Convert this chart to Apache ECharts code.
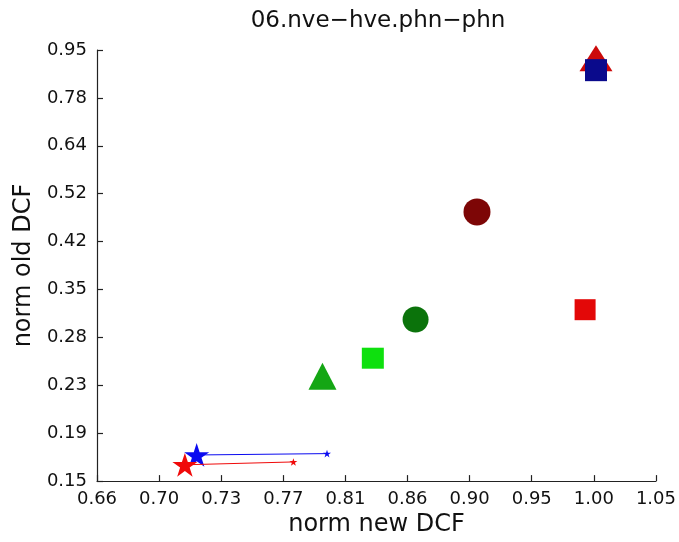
<!DOCTYPE html>
<html>
<head>
<meta charset="utf-8">
<title>06.nve-hve.phn-phn</title>
<script src="https://cdn.jsdelivr.net/npm/echarts@6/dist/echarts.min.js"></script>
<style>
  html, body { margin: 0; padding: 0; background: #ffffff; }
  #chart { width: 679px; height: 542px; }
</style>
</head>
<body>
<div id="chart"></div>
<script>
// Tick labels of the two logarithmic axes (evenly spaced in log space)
const xTickLabels = ['0.66', '0.70', '0.73', '0.77', '0.81', '0.86', '0.90', '0.95', '1.00', '1.05'];
const yTickLabels = ['0.15', '0.19', '0.23', '0.28', '0.35', '0.42', '0.52', '0.64', '0.78', '0.95'];

// Single-marker systems: normalised new DCF (x) and old DCF (y)
const systemNewDCF = [1.001, 1.001, 0.907, 0.862, 0.832, 0.992, 0.798];
const systemOldDCF = [0.921, 0.876, 0.481, 0.305, 0.259, 0.318, 0.240];

// Fusion curves: start (big star) and end (small star)
const blueFusionNew = [0.719, 0.801];
const blueFusionOld = [0.172, 0.173];
const redFusionNew = [0.712, 0.779];
const redFusionOld = [0.165, 0.167];

// Axis extents of the log scales
const X_LO = 0.662, X_HI = 1.052;
const Y_LO = 0.154, Y_HI = 0.954;
const N_STEPS = 9;
const logPos = (v, lo, hi) => N_STEPS * Math.log(v / lo) / Math.log(hi / lo);
const toXY = (x, y) => [logPos(x, X_LO, X_HI), logPos(y, Y_LO, Y_HI)];

// Marker appearance of each single-marker system
const systemStyle = [
  { symbol: 'triangle', size: [33, 26], color: '#cc0a0a' },
  { symbol: 'rect',     size: [22, 22], color: '#0a0a8c' },
  { symbol: 'circle',   size: 27,       color: '#7d0606' },
  { symbol: 'circle',   size: 26,       color: '#0b730b' },
  { symbol: 'rect',     size: [22, 21], color: '#0ee00e' },
  { symbol: 'rect',     size: [21, 21], color: '#e30808' },
  { symbol: 'triangle', size: [28, 27], color: '#14a614' }
];

const STAR = 'path://M50,0L61.23,34.55L97.55,34.55L68.16,55.9L79.39,90.45L50,69.1L20.61,90.45L31.84,55.9L2.45,34.55L38.77,34.55Z';
const FONT = '"DejaVu Sans", sans-serif';

const systemSeries = systemNewDCF.map((nx, i) => ({
  type: 'scatter',
  z: 2 + (i === 1 ? 1 : 0),
  symbol: systemStyle[i].symbol,
  symbolSize: systemStyle[i].size,
  itemStyle: { color: systemStyle[i].color, opacity: 1 },
  data: [toXY(nx, systemOldDCF[i])]
}));

function fusionSeries(xs, ys, color, z) {
  return {
    type: 'line',
    z: z,
    showSymbol: true,
    symbol: STAR,
    symbolKeepAspect: true,
    symbolSize: (val, p) => (p.dataIndex === 0 ? 25 : 8),
    lineStyle: { color: color, width: 1 },
    itemStyle: { color: color, opacity: 1 },
    data: xs.map((x, i) => toXY(x, ys[i]))
  };
}

const chart = echarts.init(document.getElementById('chart'), null, { renderer: 'canvas' });
chart.setOption({
  animation: false,
  backgroundColor: '#ffffff',
  title: {
    text: '06.nve\u2212hve.phn\u2212phn',
    left: 378,
    top: 10,
    padding: 0,
    textAlign: 'center',
    textStyle: { fontFamily: FONT, fontSize: 23, fontWeight: 'normal', color: '#111' }
  },
  grid: { left: 97, right: 23, top: 50, bottom: 56, containLabel: false },
  xAxis: {
    type: 'value',
    min: 0, max: N_STEPS, interval: 1,
    name: 'norm new DCF',
    nameLocation: 'middle',
    nameGap: 25,
    nameTextStyle: { fontFamily: FONT, fontSize: 24, color: '#111' },
    axisLine: { show: true, lineStyle: { color: '#222', width: 1.2 } },
    axisTick: { show: true, inside: true, length: 6, lineStyle: { color: '#222', width: 1.2 } },
    splitLine: { show: false },
    axisLabel: {
      fontFamily: FONT, fontSize: 18, color: '#111', margin: 9,
      formatter: v => xTickLabels[Math.round(v)]
    }
  },
  yAxis: {
    type: 'value',
    min: 0, max: N_STEPS, interval: 1,
    name: 'norm old DCF',
    nameLocation: 'middle',
    nameGap: 59,
    nameTextStyle: { fontFamily: FONT, fontSize: 24, color: '#111' },
    axisLine: { show: true, lineStyle: { color: '#222', width: 1.2 } },
    axisTick: { show: true, inside: true, length: 6, lineStyle: { color: '#222', width: 1.2 } },
    splitLine: { show: false },
    axisLabel: {
      fontFamily: FONT, fontSize: 18, color: '#111', margin: 10,
      formatter: v => yTickLabels[Math.round(v)]
    }
  },
  series: systemSeries.concat([
    fusionSeries(blueFusionNew, blueFusionOld, '#0a0af0', 4),
    fusionSeries(redFusionNew, redFusionOld, '#f00a0a', 5)
  ])
});
</script>
</body>
</html>
